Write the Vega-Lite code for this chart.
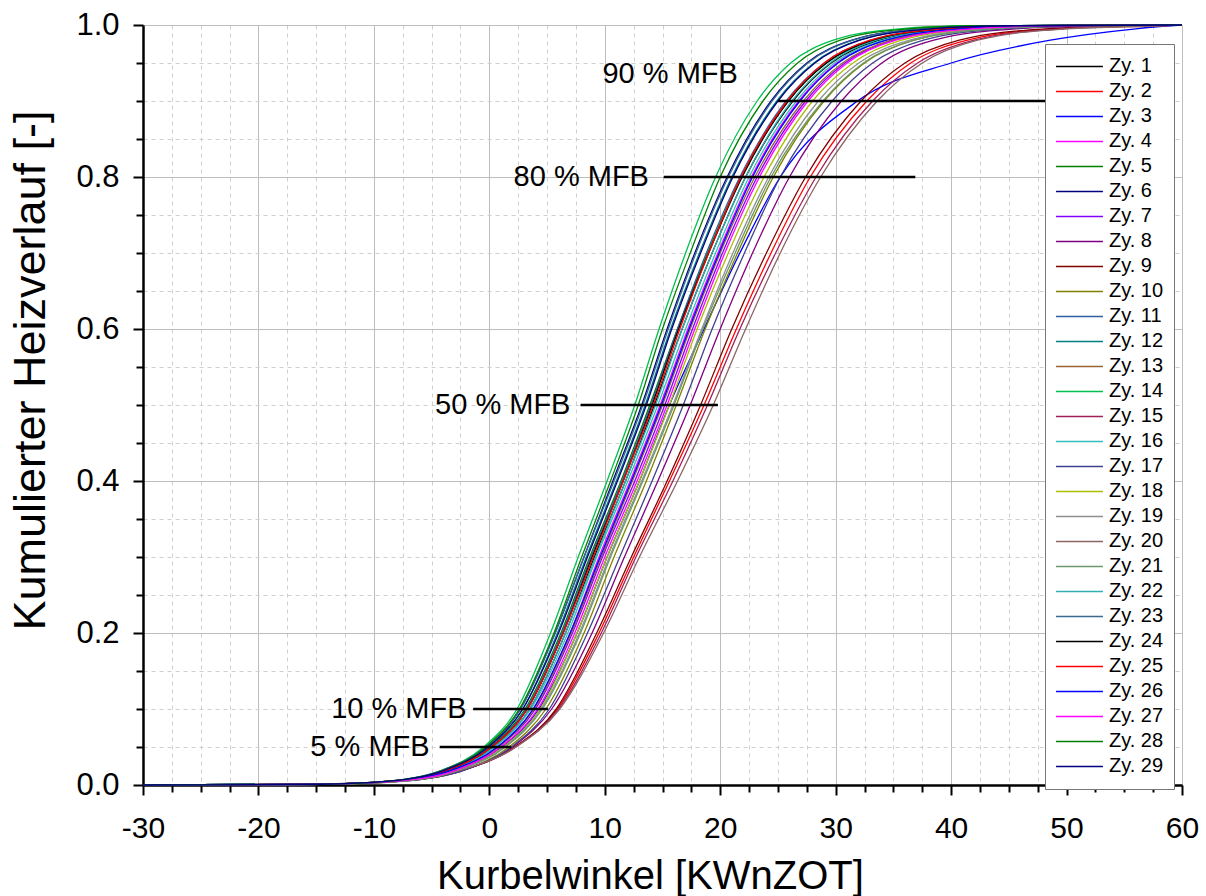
{
"$schema":"https://vega.github.io/schema/vega-lite/v6.json",
"width":1039,"height":760,
"autosize":"none",
"padding":{"left":143,"top":25,"right":24,"bottom":111},
"background":"white",
"config":{"font":"Liberation Sans","view":{"stroke":null}},
"datasets":{
"curves":[
{"c":"Zy. 1","x":-30,"y":0},{"c":"Zy. 1","x":-14.3,"y":0.001},{"c":"Zy. 1","x":-8.3,"y":0.005},{"c":"Zy. 1","x":-3.3,"y":0.02},{"c":"Zy. 1","x":0.4,"y":0.05},{"c":"Zy. 1","x":3.5,"y":0.1},{"c":"Zy. 1","x":6.6,"y":0.2},{"c":"Zy. 1","x":9.1,"y":0.3},{"c":"Zy. 1","x":11.8,"y":0.4},{"c":"Zy. 1","x":14.3,"y":0.5},{"c":"Zy. 1","x":16.7,"y":0.6},{"c":"Zy. 1","x":19.3,"y":0.7},{"c":"Zy. 1","x":22.2,"y":0.8},{"c":"Zy. 1","x":26.3,"y":0.9},{"c":"Zy. 1","x":29.6,"y":0.95},{"c":"Zy. 1","x":33.8,"y":0.98},{"c":"Zy. 1","x":40.3,"y":0.995},{"c":"Zy. 1","x":47.3,"y":0.999},{"c":"Zy. 1","x":60,"y":1},
{"c":"Zy. 2","x":-30,"y":0},{"c":"Zy. 2","x":-15.2,"y":0.001},{"c":"Zy. 2","x":-8.1,"y":0.005},{"c":"Zy. 2","x":-2.2,"y":0.02},{"c":"Zy. 2","x":2.2,"y":0.05},{"c":"Zy. 2","x":5.9,"y":0.1},{"c":"Zy. 2","x":9.5,"y":0.2},{"c":"Zy. 2","x":12.5,"y":0.3},{"c":"Zy. 2","x":15.6,"y":0.4},{"c":"Zy. 2","x":18.6,"y":0.5},{"c":"Zy. 2","x":21.4,"y":0.6},{"c":"Zy. 2","x":24.4,"y":0.7},{"c":"Zy. 2","x":27.8,"y":0.8},{"c":"Zy. 2","x":32.7,"y":0.9},{"c":"Zy. 2","x":36.5,"y":0.95},{"c":"Zy. 2","x":41.4,"y":0.98},{"c":"Zy. 2","x":49.0,"y":0.995},{"c":"Zy. 2","x":57.2,"y":0.999},{"c":"Zy. 2","x":60,"y":1},
{"c":"Zy. 3","x":-30,"y":0},{"c":"Zy. 3","x":-14.3,"y":0.001},{"c":"Zy. 3","x":-8.0,"y":0.005},{"c":"Zy. 3","x":-2.8,"y":0.02},{"c":"Zy. 3","x":1.1,"y":0.05},{"c":"Zy. 3","x":4.3,"y":0.1},{"c":"Zy. 3","x":7.6,"y":0.2},{"c":"Zy. 3","x":10.2,"y":0.3},{"c":"Zy. 3","x":13.0,"y":0.4},{"c":"Zy. 3","x":15.6,"y":0.5},{"c":"Zy. 3","x":18.6,"y":0.6},{"c":"Zy. 3","x":21.7,"y":0.7},{"c":"Zy. 3","x":25.2,"y":0.8},{"c":"Zy. 3","x":31.9,"y":0.9},{"c":"Zy. 3","x":40.0,"y":0.95},{"c":"Zy. 3","x":48.6,"y":0.98},{"c":"Zy. 3","x":56.0,"y":0.995},{"c":"Zy. 3","x":59.0,"y":0.999},{"c":"Zy. 3","x":60,"y":1},
{"c":"Zy. 4","x":-30,"y":0},{"c":"Zy. 4","x":-14.3,"y":0.001},{"c":"Zy. 4","x":-8.2,"y":0.005},{"c":"Zy. 4","x":-3.1,"y":0.02},{"c":"Zy. 4","x":0.7,"y":0.05},{"c":"Zy. 4","x":3.8,"y":0.1},{"c":"Zy. 4","x":7.0,"y":0.2},{"c":"Zy. 4","x":9.5,"y":0.3},{"c":"Zy. 4","x":12.2,"y":0.4},{"c":"Zy. 4","x":14.8,"y":0.5},{"c":"Zy. 4","x":17.2,"y":0.6},{"c":"Zy. 4","x":19.8,"y":0.7},{"c":"Zy. 4","x":22.7,"y":0.8},{"c":"Zy. 4","x":26.8,"y":0.9},{"c":"Zy. 4","x":30.1,"y":0.95},{"c":"Zy. 4","x":34.3,"y":0.98},{"c":"Zy. 4","x":40.8,"y":0.995},{"c":"Zy. 4","x":47.8,"y":0.999},{"c":"Zy. 4","x":60,"y":1},
{"c":"Zy. 5","x":-30,"y":0},{"c":"Zy. 5","x":-14.7,"y":0.001},{"c":"Zy. 5","x":-8.7,"y":0.005},{"c":"Zy. 5","x":-3.7,"y":0.02},{"c":"Zy. 5","x":0.0,"y":0.05},{"c":"Zy. 5","x":3.1,"y":0.1},{"c":"Zy. 5","x":6.2,"y":0.2},{"c":"Zy. 5","x":8.7,"y":0.3},{"c":"Zy. 5","x":11.4,"y":0.4},{"c":"Zy. 5","x":13.9,"y":0.5},{"c":"Zy. 5","x":16.3,"y":0.6},{"c":"Zy. 5","x":18.9,"y":0.7},{"c":"Zy. 5","x":21.8,"y":0.8},{"c":"Zy. 5","x":25.9,"y":0.9},{"c":"Zy. 5","x":29.2,"y":0.95},{"c":"Zy. 5","x":33.4,"y":0.98},{"c":"Zy. 5","x":39.9,"y":0.995},{"c":"Zy. 5","x":46.9,"y":0.999},{"c":"Zy. 5","x":60,"y":1},
{"c":"Zy. 6","x":-30,"y":0},{"c":"Zy. 6","x":-14.6,"y":0.001},{"c":"Zy. 6","x":-8.7,"y":0.005},{"c":"Zy. 6","x":-3.9,"y":0.02},{"c":"Zy. 6","x":-0.3,"y":0.05},{"c":"Zy. 6","x":2.7,"y":0.1},{"c":"Zy. 6","x":5.7,"y":0.2},{"c":"Zy. 6","x":8.2,"y":0.3},{"c":"Zy. 6","x":10.7,"y":0.4},{"c":"Zy. 6","x":13.2,"y":0.5},{"c":"Zy. 6","x":15.4,"y":0.6},{"c":"Zy. 6","x":17.8,"y":0.7},{"c":"Zy. 6","x":20.6,"y":0.8},{"c":"Zy. 6","x":24.4,"y":0.9},{"c":"Zy. 6","x":27.5,"y":0.95},{"c":"Zy. 6","x":31.4,"y":0.98},{"c":"Zy. 6","x":37.4,"y":0.995},{"c":"Zy. 6","x":44.0,"y":0.999},{"c":"Zy. 6","x":60,"y":1},
{"c":"Zy. 7","x":-30,"y":0},{"c":"Zy. 7","x":-14.4,"y":0.001},{"c":"Zy. 7","x":-8.2,"y":0.005},{"c":"Zy. 7","x":-3.0,"y":0.02},{"c":"Zy. 7","x":0.8,"y":0.05},{"c":"Zy. 7","x":4.0,"y":0.1},{"c":"Zy. 7","x":7.2,"y":0.2},{"c":"Zy. 7","x":9.8,"y":0.3},{"c":"Zy. 7","x":12.6,"y":0.4},{"c":"Zy. 7","x":15.2,"y":0.5},{"c":"Zy. 7","x":17.6,"y":0.6},{"c":"Zy. 7","x":20.2,"y":0.7},{"c":"Zy. 7","x":23.2,"y":0.8},{"c":"Zy. 7","x":27.4,"y":0.9},{"c":"Zy. 7","x":30.8,"y":0.95},{"c":"Zy. 7","x":35.0,"y":0.98},{"c":"Zy. 7","x":41.6,"y":0.995},{"c":"Zy. 7","x":48.8,"y":0.999},{"c":"Zy. 7","x":60,"y":1},
{"c":"Zy. 8","x":-30,"y":0},{"c":"Zy. 8","x":-14.3,"y":0.001},{"c":"Zy. 8","x":-7.6,"y":0.005},{"c":"Zy. 8","x":-2.1,"y":0.02},{"c":"Zy. 8","x":2.0,"y":0.05},{"c":"Zy. 8","x":5.4,"y":0.1},{"c":"Zy. 8","x":8.9,"y":0.2},{"c":"Zy. 8","x":11.7,"y":0.3},{"c":"Zy. 8","x":14.6,"y":0.4},{"c":"Zy. 8","x":17.4,"y":0.5},{"c":"Zy. 8","x":20.0,"y":0.6},{"c":"Zy. 8","x":22.8,"y":0.7},{"c":"Zy. 8","x":26.0,"y":0.8},{"c":"Zy. 8","x":30.5,"y":0.9},{"c":"Zy. 8","x":34.0,"y":0.95},{"c":"Zy. 8","x":38.5,"y":0.98},{"c":"Zy. 8","x":45.6,"y":0.995},{"c":"Zy. 8","x":53.2,"y":0.999},{"c":"Zy. 8","x":60,"y":1},
{"c":"Zy. 9","x":-30,"y":0},{"c":"Zy. 9","x":-15.0,"y":0.001},{"c":"Zy. 9","x":-7.9,"y":0.005},{"c":"Zy. 9","x":-2.2,"y":0.02},{"c":"Zy. 9","x":2.2,"y":0.05},{"c":"Zy. 9","x":5.8,"y":0.1},{"c":"Zy. 9","x":9.3,"y":0.2},{"c":"Zy. 9","x":12.3,"y":0.3},{"c":"Zy. 9","x":15.4,"y":0.4},{"c":"Zy. 9","x":18.3,"y":0.5},{"c":"Zy. 9","x":21.0,"y":0.6},{"c":"Zy. 9","x":24.0,"y":0.7},{"c":"Zy. 9","x":27.4,"y":0.8},{"c":"Zy. 9","x":32.2,"y":0.9},{"c":"Zy. 9","x":36.0,"y":0.95},{"c":"Zy. 9","x":40.7,"y":0.98},{"c":"Zy. 9","x":48.2,"y":0.995},{"c":"Zy. 9","x":56.4,"y":0.999},{"c":"Zy. 9","x":60,"y":1},
{"c":"Zy. 10","x":-30,"y":0},{"c":"Zy. 10","x":-13.7,"y":0.001},{"c":"Zy. 10","x":-7.4,"y":0.005},{"c":"Zy. 10","x":-2.2,"y":0.02},{"c":"Zy. 10","x":1.7,"y":0.05},{"c":"Zy. 10","x":4.9,"y":0.1},{"c":"Zy. 10","x":8.2,"y":0.2},{"c":"Zy. 10","x":10.8,"y":0.3},{"c":"Zy. 10","x":13.6,"y":0.4},{"c":"Zy. 10","x":16.2,"y":0.5},{"c":"Zy. 10","x":18.7,"y":0.6},{"c":"Zy. 10","x":21.5,"y":0.7},{"c":"Zy. 10","x":24.6,"y":0.8},{"c":"Zy. 10","x":29.0,"y":0.9},{"c":"Zy. 10","x":32.5,"y":0.95},{"c":"Zy. 10","x":36.8,"y":0.98},{"c":"Zy. 10","x":43.7,"y":0.995},{"c":"Zy. 10","x":51.2,"y":0.999},{"c":"Zy. 10","x":60,"y":1},
{"c":"Zy. 11","x":-30,"y":0},{"c":"Zy. 11","x":-14.6,"y":0.001},{"c":"Zy. 11","x":-8.6,"y":0.005},{"c":"Zy. 11","x":-3.6,"y":0.02},{"c":"Zy. 11","x":0.1,"y":0.05},{"c":"Zy. 11","x":3.2,"y":0.1},{"c":"Zy. 11","x":6.3,"y":0.2},{"c":"Zy. 11","x":8.8,"y":0.3},{"c":"Zy. 11","x":11.5,"y":0.4},{"c":"Zy. 11","x":14.0,"y":0.5},{"c":"Zy. 11","x":16.3,"y":0.6},{"c":"Zy. 11","x":18.8,"y":0.7},{"c":"Zy. 11","x":21.7,"y":0.8},{"c":"Zy. 11","x":25.7,"y":0.9},{"c":"Zy. 11","x":29.0,"y":0.95},{"c":"Zy. 11","x":33.0,"y":0.98},{"c":"Zy. 11","x":39.3,"y":0.995},{"c":"Zy. 11","x":46.2,"y":0.999},{"c":"Zy. 11","x":60,"y":1},
{"c":"Zy. 12","x":-30,"y":0},{"c":"Zy. 12","x":-14.6,"y":0.001},{"c":"Zy. 12","x":-8.6,"y":0.005},{"c":"Zy. 12","x":-3.8,"y":0.02},{"c":"Zy. 12","x":-0.1,"y":0.05},{"c":"Zy. 12","x":2.9,"y":0.1},{"c":"Zy. 12","x":5.9,"y":0.2},{"c":"Zy. 12","x":8.4,"y":0.3},{"c":"Zy. 12","x":11.0,"y":0.4},{"c":"Zy. 12","x":13.5,"y":0.5},{"c":"Zy. 12","x":15.7,"y":0.6},{"c":"Zy. 12","x":18.2,"y":0.7},{"c":"Zy. 12","x":21.0,"y":0.8},{"c":"Zy. 12","x":24.9,"y":0.9},{"c":"Zy. 12","x":28.1,"y":0.95},{"c":"Zy. 12","x":32.0,"y":0.98},{"c":"Zy. 12","x":38.1,"y":0.995},{"c":"Zy. 12","x":44.9,"y":0.999},{"c":"Zy. 12","x":60,"y":1},
{"c":"Zy. 13","x":-30,"y":0},{"c":"Zy. 13","x":-14.4,"y":0.001},{"c":"Zy. 13","x":-8.2,"y":0.005},{"c":"Zy. 13","x":-3.1,"y":0.02},{"c":"Zy. 13","x":0.8,"y":0.05},{"c":"Zy. 13","x":3.9,"y":0.1},{"c":"Zy. 13","x":7.1,"y":0.2},{"c":"Zy. 13","x":9.7,"y":0.3},{"c":"Zy. 13","x":12.4,"y":0.4},{"c":"Zy. 13","x":15.0,"y":0.5},{"c":"Zy. 13","x":17.4,"y":0.6},{"c":"Zy. 13","x":20.0,"y":0.7},{"c":"Zy. 13","x":23.0,"y":0.8},{"c":"Zy. 13","x":27.2,"y":0.9},{"c":"Zy. 13","x":30.6,"y":0.95},{"c":"Zy. 13","x":34.8,"y":0.98},{"c":"Zy. 13","x":41.4,"y":0.995},{"c":"Zy. 13","x":48.6,"y":0.999},{"c":"Zy. 13","x":60,"y":1},
{"c":"Zy. 14","x":-30,"y":0},{"c":"Zy. 14","x":-14.4,"y":0.001},{"c":"Zy. 14","x":-8.7,"y":0.005},{"c":"Zy. 14","x":-4.0,"y":0.02},{"c":"Zy. 14","x":-0.5,"y":0.05},{"c":"Zy. 14","x":2.4,"y":0.1},{"c":"Zy. 14","x":5.3,"y":0.2},{"c":"Zy. 14","x":7.7,"y":0.3},{"c":"Zy. 14","x":10.2,"y":0.4},{"c":"Zy. 14","x":12.6,"y":0.5},{"c":"Zy. 14","x":14.7,"y":0.6},{"c":"Zy. 14","x":17.0,"y":0.7},{"c":"Zy. 14","x":19.6,"y":0.8},{"c":"Zy. 14","x":23.2,"y":0.9},{"c":"Zy. 14","x":26.1,"y":0.95},{"c":"Zy. 14","x":29.8,"y":0.98},{"c":"Zy. 14","x":35.5,"y":0.995},{"c":"Zy. 14","x":41.7,"y":0.999},{"c":"Zy. 14","x":60,"y":1},
{"c":"Zy. 15","x":-30,"y":0},{"c":"Zy. 15","x":-15.4,"y":0.001},{"c":"Zy. 15","x":-8.2,"y":0.005},{"c":"Zy. 15","x":-2.2,"y":0.02},{"c":"Zy. 15","x":2.3,"y":0.05},{"c":"Zy. 15","x":6.0,"y":0.1},{"c":"Zy. 15","x":9.7,"y":0.2},{"c":"Zy. 15","x":12.7,"y":0.3},{"c":"Zy. 15","x":15.9,"y":0.4},{"c":"Zy. 15","x":18.9,"y":0.5},{"c":"Zy. 15","x":21.7,"y":0.6},{"c":"Zy. 15","x":24.8,"y":0.7},{"c":"Zy. 15","x":28.3,"y":0.8},{"c":"Zy. 15","x":33.2,"y":0.9},{"c":"Zy. 15","x":37.1,"y":0.95},{"c":"Zy. 15","x":42.0,"y":0.98},{"c":"Zy. 15","x":49.7,"y":0.995},{"c":"Zy. 15","x":58.1,"y":0.999},{"c":"Zy. 15","x":60,"y":1},
{"c":"Zy. 16","x":-30,"y":0},{"c":"Zy. 16","x":-14.5,"y":0.001},{"c":"Zy. 16","x":-8.4,"y":0.005},{"c":"Zy. 16","x":-3.3,"y":0.02},{"c":"Zy. 16","x":0.5,"y":0.05},{"c":"Zy. 16","x":3.6,"y":0.1},{"c":"Zy. 16","x":6.8,"y":0.2},{"c":"Zy. 16","x":9.3,"y":0.3},{"c":"Zy. 16","x":12.0,"y":0.4},{"c":"Zy. 16","x":14.6,"y":0.5},{"c":"Zy. 16","x":17.0,"y":0.6},{"c":"Zy. 16","x":19.6,"y":0.7},{"c":"Zy. 16","x":22.5,"y":0.8},{"c":"Zy. 16","x":26.6,"y":0.9},{"c":"Zy. 16","x":29.9,"y":0.95},{"c":"Zy. 16","x":34.1,"y":0.98},{"c":"Zy. 16","x":40.6,"y":0.995},{"c":"Zy. 16","x":47.6,"y":0.999},{"c":"Zy. 16","x":60,"y":1},
{"c":"Zy. 17","x":-30,"y":0},{"c":"Zy. 17","x":-13.9,"y":0.001},{"c":"Zy. 17","x":-7.4,"y":0.005},{"c":"Zy. 17","x":-2.1,"y":0.02},{"c":"Zy. 17","x":1.9,"y":0.05},{"c":"Zy. 17","x":5.2,"y":0.1},{"c":"Zy. 17","x":8.5,"y":0.2},{"c":"Zy. 17","x":11.3,"y":0.3},{"c":"Zy. 17","x":14.1,"y":0.4},{"c":"Zy. 17","x":16.8,"y":0.5},{"c":"Zy. 17","x":19.3,"y":0.6},{"c":"Zy. 17","x":22.1,"y":0.7},{"c":"Zy. 17","x":25.2,"y":0.8},{"c":"Zy. 17","x":29.7,"y":0.9},{"c":"Zy. 17","x":33.2,"y":0.95},{"c":"Zy. 17","x":37.6,"y":0.98},{"c":"Zy. 17","x":44.5,"y":0.995},{"c":"Zy. 17","x":52.1,"y":0.999},{"c":"Zy. 17","x":60,"y":1},
{"c":"Zy. 18","x":-30,"y":0},{"c":"Zy. 18","x":-14.0,"y":0.001},{"c":"Zy. 18","x":-7.8,"y":0.005},{"c":"Zy. 18","x":-2.6,"y":0.02},{"c":"Zy. 18","x":1.2,"y":0.05},{"c":"Zy. 18","x":4.4,"y":0.1},{"c":"Zy. 18","x":7.6,"y":0.2},{"c":"Zy. 18","x":10.2,"y":0.3},{"c":"Zy. 18","x":13.0,"y":0.4},{"c":"Zy. 18","x":15.6,"y":0.5},{"c":"Zy. 18","x":18.0,"y":0.6},{"c":"Zy. 18","x":20.7,"y":0.7},{"c":"Zy. 18","x":23.8,"y":0.8},{"c":"Zy. 18","x":28.0,"y":0.9},{"c":"Zy. 18","x":31.5,"y":0.95},{"c":"Zy. 18","x":35.7,"y":0.98},{"c":"Zy. 18","x":42.4,"y":0.995},{"c":"Zy. 18","x":49.8,"y":0.999},{"c":"Zy. 18","x":60,"y":1},
{"c":"Zy. 19","x":-30,"y":0},{"c":"Zy. 19","x":-14.3,"y":0.001},{"c":"Zy. 19","x":-7.9,"y":0.005},{"c":"Zy. 19","x":-2.7,"y":0.02},{"c":"Zy. 19","x":1.3,"y":0.05},{"c":"Zy. 19","x":4.5,"y":0.1},{"c":"Zy. 19","x":7.8,"y":0.2},{"c":"Zy. 19","x":10.4,"y":0.3},{"c":"Zy. 19","x":13.2,"y":0.4},{"c":"Zy. 19","x":15.9,"y":0.5},{"c":"Zy. 19","x":18.4,"y":0.6},{"c":"Zy. 19","x":21.1,"y":0.7},{"c":"Zy. 19","x":24.2,"y":0.8},{"c":"Zy. 19","x":28.5,"y":0.9},{"c":"Zy. 19","x":32.0,"y":0.95},{"c":"Zy. 19","x":36.4,"y":0.98},{"c":"Zy. 19","x":43.2,"y":0.995},{"c":"Zy. 19","x":50.6,"y":0.999},{"c":"Zy. 19","x":60,"y":1},
{"c":"Zy. 20","x":-30,"y":0},{"c":"Zy. 20","x":-16.0,"y":0.001},{"c":"Zy. 20","x":-8.5,"y":0.005},{"c":"Zy. 20","x":-2.4,"y":0.02},{"c":"Zy. 20","x":2.3,"y":0.05},{"c":"Zy. 20","x":6.1,"y":0.1},{"c":"Zy. 20","x":9.9,"y":0.2},{"c":"Zy. 20","x":13.0,"y":0.3},{"c":"Zy. 20","x":16.3,"y":0.4},{"c":"Zy. 20","x":19.4,"y":0.5},{"c":"Zy. 20","x":22.2,"y":0.6},{"c":"Zy. 20","x":25.2,"y":0.7},{"c":"Zy. 20","x":28.7,"y":0.8},{"c":"Zy. 20","x":33.6,"y":0.9},{"c":"Zy. 20","x":37.5,"y":0.95},{"c":"Zy. 20","x":42.3,"y":0.98},{"c":"Zy. 20","x":50.0,"y":0.995},{"c":"Zy. 20","x":58.3,"y":0.999},{"c":"Zy. 20","x":60,"y":1},
{"c":"Zy. 21","x":-30,"y":0},{"c":"Zy. 21","x":-14.2,"y":0.001},{"c":"Zy. 21","x":-7.8,"y":0.005},{"c":"Zy. 21","x":-2.6,"y":0.02},{"c":"Zy. 21","x":1.4,"y":0.05},{"c":"Zy. 21","x":4.6,"y":0.1},{"c":"Zy. 21","x":7.9,"y":0.2},{"c":"Zy. 21","x":10.5,"y":0.3},{"c":"Zy. 21","x":13.3,"y":0.4},{"c":"Zy. 21","x":16.0,"y":0.5},{"c":"Zy. 21","x":18.5,"y":0.6},{"c":"Zy. 21","x":21.3,"y":0.7},{"c":"Zy. 21","x":24.4,"y":0.8},{"c":"Zy. 21","x":28.9,"y":0.9},{"c":"Zy. 21","x":32.4,"y":0.95},{"c":"Zy. 21","x":36.8,"y":0.98},{"c":"Zy. 21","x":43.7,"y":0.995},{"c":"Zy. 21","x":51.3,"y":0.999},{"c":"Zy. 21","x":60,"y":1},
{"c":"Zy. 22","x":-30,"y":0},{"c":"Zy. 22","x":-14.5,"y":0.001},{"c":"Zy. 22","x":-8.4,"y":0.005},{"c":"Zy. 22","x":-3.4,"y":0.02},{"c":"Zy. 22","x":0.4,"y":0.05},{"c":"Zy. 22","x":3.5,"y":0.1},{"c":"Zy. 22","x":6.6,"y":0.2},{"c":"Zy. 22","x":9.2,"y":0.3},{"c":"Zy. 22","x":11.8,"y":0.4},{"c":"Zy. 22","x":14.4,"y":0.5},{"c":"Zy. 22","x":16.7,"y":0.6},{"c":"Zy. 22","x":19.3,"y":0.7},{"c":"Zy. 22","x":22.2,"y":0.8},{"c":"Zy. 22","x":26.2,"y":0.9},{"c":"Zy. 22","x":29.5,"y":0.95},{"c":"Zy. 22","x":33.5,"y":0.98},{"c":"Zy. 22","x":39.9,"y":0.995},{"c":"Zy. 22","x":46.9,"y":0.999},{"c":"Zy. 22","x":60,"y":1},
{"c":"Zy. 23","x":-30,"y":0},{"c":"Zy. 23","x":-14.8,"y":0.001},{"c":"Zy. 23","x":-8.8,"y":0.005},{"c":"Zy. 23","x":-4.0,"y":0.02},{"c":"Zy. 23","x":-0.3,"y":0.05},{"c":"Zy. 23","x":2.7,"y":0.1},{"c":"Zy. 23","x":5.7,"y":0.2},{"c":"Zy. 23","x":8.2,"y":0.3},{"c":"Zy. 23","x":10.8,"y":0.4},{"c":"Zy. 23","x":13.3,"y":0.5},{"c":"Zy. 23","x":15.5,"y":0.6},{"c":"Zy. 23","x":17.9,"y":0.7},{"c":"Zy. 23","x":20.7,"y":0.8},{"c":"Zy. 23","x":24.5,"y":0.9},{"c":"Zy. 23","x":27.6,"y":0.95},{"c":"Zy. 23","x":31.5,"y":0.98},{"c":"Zy. 23","x":37.5,"y":0.995},{"c":"Zy. 23","x":44.1,"y":0.999},{"c":"Zy. 23","x":60,"y":1},
{"c":"Zy. 24","x":-30,"y":0},{"c":"Zy. 24","x":-14.5,"y":0.001},{"c":"Zy. 24","x":-8.5,"y":0.005},{"c":"Zy. 24","x":-3.5,"y":0.02},{"c":"Zy. 24","x":0.2,"y":0.05},{"c":"Zy. 24","x":3.3,"y":0.1},{"c":"Zy. 24","x":6.4,"y":0.2},{"c":"Zy. 24","x":8.9,"y":0.3},{"c":"Zy. 24","x":11.6,"y":0.4},{"c":"Zy. 24","x":14.1,"y":0.5},{"c":"Zy. 24","x":16.4,"y":0.6},{"c":"Zy. 24","x":19.0,"y":0.7},{"c":"Zy. 24","x":21.9,"y":0.8},{"c":"Zy. 24","x":25.9,"y":0.9},{"c":"Zy. 24","x":29.2,"y":0.95},{"c":"Zy. 24","x":33.2,"y":0.98},{"c":"Zy. 24","x":39.6,"y":0.995},{"c":"Zy. 24","x":46.6,"y":0.999},{"c":"Zy. 24","x":60,"y":1},
{"c":"Zy. 25","x":-30,"y":0},{"c":"Zy. 25","x":-14.7,"y":0.001},{"c":"Zy. 25","x":-8.6,"y":0.005},{"c":"Zy. 25","x":-3.6,"y":0.02},{"c":"Zy. 25","x":0.2,"y":0.05},{"c":"Zy. 25","x":3.3,"y":0.1},{"c":"Zy. 25","x":6.4,"y":0.2},{"c":"Zy. 25","x":9.0,"y":0.3},{"c":"Zy. 25","x":11.6,"y":0.4},{"c":"Zy. 25","x":14.2,"y":0.5},{"c":"Zy. 25","x":16.5,"y":0.6},{"c":"Zy. 25","x":19.0,"y":0.7},{"c":"Zy. 25","x":21.8,"y":0.8},{"c":"Zy. 25","x":25.8,"y":0.9},{"c":"Zy. 25","x":29.0,"y":0.95},{"c":"Zy. 25","x":33.0,"y":0.98},{"c":"Zy. 25","x":39.3,"y":0.995},{"c":"Zy. 25","x":46.1,"y":0.999},{"c":"Zy. 25","x":60,"y":1},
{"c":"Zy. 26","x":-30,"y":0},{"c":"Zy. 26","x":-14.5,"y":0.001},{"c":"Zy. 26","x":-8.3,"y":0.005},{"c":"Zy. 26","x":-3.2,"y":0.02},{"c":"Zy. 26","x":0.7,"y":0.05},{"c":"Zy. 26","x":3.8,"y":0.1},{"c":"Zy. 26","x":7.0,"y":0.2},{"c":"Zy. 26","x":9.6,"y":0.3},{"c":"Zy. 26","x":12.3,"y":0.4},{"c":"Zy. 26","x":14.9,"y":0.5},{"c":"Zy. 26","x":17.3,"y":0.6},{"c":"Zy. 26","x":19.9,"y":0.7},{"c":"Zy. 26","x":22.8,"y":0.8},{"c":"Zy. 26","x":26.9,"y":0.9},{"c":"Zy. 26","x":30.2,"y":0.95},{"c":"Zy. 26","x":34.4,"y":0.98},{"c":"Zy. 26","x":40.9,"y":0.995},{"c":"Zy. 26","x":47.9,"y":0.999},{"c":"Zy. 26","x":60,"y":1},
{"c":"Zy. 27","x":-30,"y":0},{"c":"Zy. 27","x":-14.2,"y":0.001},{"c":"Zy. 27","x":-8.0,"y":0.005},{"c":"Zy. 27","x":-2.8,"y":0.02},{"c":"Zy. 27","x":1.0,"y":0.05},{"c":"Zy. 27","x":4.2,"y":0.1},{"c":"Zy. 27","x":7.4,"y":0.2},{"c":"Zy. 27","x":10.0,"y":0.3},{"c":"Zy. 27","x":12.8,"y":0.4},{"c":"Zy. 27","x":15.4,"y":0.5},{"c":"Zy. 27","x":17.8,"y":0.6},{"c":"Zy. 27","x":20.4,"y":0.7},{"c":"Zy. 27","x":23.4,"y":0.8},{"c":"Zy. 27","x":27.6,"y":0.9},{"c":"Zy. 27","x":31.0,"y":0.95},{"c":"Zy. 27","x":35.2,"y":0.98},{"c":"Zy. 27","x":41.8,"y":0.995},{"c":"Zy. 27","x":49.0,"y":0.999},{"c":"Zy. 27","x":60,"y":1},
{"c":"Zy. 28","x":-30,"y":0},{"c":"Zy. 28","x":-14.4,"y":0.001},{"c":"Zy. 28","x":-8.6,"y":0.005},{"c":"Zy. 28","x":-3.9,"y":0.02},{"c":"Zy. 28","x":-0.3,"y":0.05},{"c":"Zy. 28","x":2.6,"y":0.1},{"c":"Zy. 28","x":5.6,"y":0.2},{"c":"Zy. 28","x":8.0,"y":0.3},{"c":"Zy. 28","x":10.5,"y":0.4},{"c":"Zy. 28","x":12.9,"y":0.5},{"c":"Zy. 28","x":15.0,"y":0.6},{"c":"Zy. 28","x":17.4,"y":0.7},{"c":"Zy. 28","x":20.0,"y":0.8},{"c":"Zy. 28","x":23.7,"y":0.9},{"c":"Zy. 28","x":26.7,"y":0.95},{"c":"Zy. 28","x":30.4,"y":0.98},{"c":"Zy. 28","x":36.2,"y":0.995},{"c":"Zy. 28","x":42.6,"y":0.999},{"c":"Zy. 28","x":60,"y":1},
{"c":"Zy. 29","x":-30,"y":0},{"c":"Zy. 29","x":-14.7,"y":0.001},{"c":"Zy. 29","x":-8.7,"y":0.005},{"c":"Zy. 29","x":-3.8,"y":0.02},{"c":"Zy. 29","x":-0.1,"y":0.05},{"c":"Zy. 29","x":2.9,"y":0.1},{"c":"Zy. 29","x":6.0,"y":0.2},{"c":"Zy. 29","x":8.5,"y":0.3},{"c":"Zy. 29","x":11.1,"y":0.4},{"c":"Zy. 29","x":13.6,"y":0.5},{"c":"Zy. 29","x":15.8,"y":0.6},{"c":"Zy. 29","x":18.3,"y":0.7},{"c":"Zy. 29","x":21.1,"y":0.8},{"c":"Zy. 29","x":25.0,"y":0.9},{"c":"Zy. 29","x":28.2,"y":0.95},{"c":"Zy. 29","x":32.1,"y":0.98},{"c":"Zy. 29","x":38.2,"y":0.995},{"c":"Zy. 29","x":45.0,"y":0.999},{"c":"Zy. 29","x":60,"y":1}
],
"marks":[
{"lab":"5 % MFB","x1":-4.3,"x2":1.9,"y":0.05,"tx":-5.0,"ty":0.05},
{"lab":"10 % MFB","x1":-1.4,"x2":5.1,"y":0.1,"tx":-1.8,"ty":0.1},
{"lab":"50 % MFB","x1":7.9,"x2":19.8,"y":0.5,"tx":7.2,"ty":0.5},
{"lab":"80 % MFB","x1":15.1,"x2":36.9,"y":0.8,"tx":14.0,"ty":0.8},
{"lab":"90 % MFB","x1":25.0,"x2":48.5,"y":0.9,"tx":21.7,"ty":0.935}
]},
"resolve":{"axis":{"x":"independent","y":"independent"}},
"layer":[
{"data":{"name":"curves"},
 "mark":{"type":"line","strokeWidth":1.3,"interpolate":"monotone"},
 "encoding":{
  "x":{"field":"x","type":"quantitative","scale":{"domain":[-30,60],"nice":false,"zero":false},
   "axis":{"orient":"bottom","values":[-30,-20,-10,0,10,20,30,40,50,60],"labelExpr":"toString(datum.value)","title":"Kurbelwinkel [KWnZOT]","titleFontSize":40,"titleFontWeight":"normal","titleColor":"black","titleX":507,"titleY":103,"titleBaseline":"alphabetic","titleAlign":"center","labelFontSize":30,"labelColor":"black","labelBaseline":"alphabetic","labelPadding":42,"labelFlush":false,"tickSize":10,"tickWidth":2,"tickColor":"black","domainColor":"black","domainWidth":2.5,"grid":true,"gridColor":"#bdbdbd","gridWidth":1,"zindex":0}},
  "y":{"field":"y","type":"quantitative","scale":{"domain":[0,1],"nice":false,"zero":false},
   "axis":{"orient":"left","values":[0,0.2,0.4,0.6,0.8,1.0],"format":".1f","title":"Kumulierter Heizverlauf [-]","titleFontSize":45,"titleFontWeight":"normal","titleColor":"black","titleX":-113,"titleY":345,"titleAngle":-90,"titleBaseline":"middle","titleAlign":"center","labelFontSize":31,"labelColor":"black","labelPadding":14,"labelFlush":false,"tickSize":10,"tickWidth":2,"tickColor":"black","domainColor":"black","domainWidth":2.5,"grid":true,"gridColor":"#bdbdbd","gridWidth":1,"zindex":0}},
  "color":{"field":"c","type":"nominal",
   "scale":{"domain":["Zy. 1","Zy. 2","Zy. 3","Zy. 4","Zy. 5","Zy. 6","Zy. 7","Zy. 8","Zy. 9","Zy. 10","Zy. 11","Zy. 12","Zy. 13","Zy. 14","Zy. 15","Zy. 16","Zy. 17","Zy. 18","Zy. 19","Zy. 20","Zy. 21","Zy. 22","Zy. 23","Zy. 24","Zy. 25","Zy. 26","Zy. 27","Zy. 28","Zy. 29"],
    "range":["#000000","#ff0000","#0000ff","#ff00ff","#008000","#000080","#8000ff","#800080","#800000","#808000","#2f5fa0","#008080","#996633","#00c050","#a0205a","#30c0c0","#404090","#a8c000","#909090","#8c6464","#6a9a6a","#30b0b0","#3a6a90","#000000","#ff0000","#0000ff","#ff00ff","#008000","#000080"]},
   "legend":{"title":null,"orient":"none","legendX":902,"legendY":19,"symbolType":"stroke","symbolSize":2200,"symbolStrokeWidth":1.5,"labelFontSize":20,"labelFont":"Liberation Sans","labelColor":"black","fillColor":"white","strokeColor":"#777777","padding":10,"clipHeight":24.8,"rowPadding":0,"labelOffset":5,"labelLimit":200}}
 }},
{"data":{"name":"marks"},
 "mark":{"type":"rule","color":"black","strokeWidth":2.5},
 "encoding":{
  "x":{"field":"x1","type":"quantitative","scale":{"domain":[-30,60],"nice":false,"zero":false},
   "axis":{"orient":"bottom","values":[-27.5,-25,-22.5,-17.5,-15,-12.5,-7.5,-5,-2.5,2.5,5,7.5,12.5,15,17.5,22.5,25,27.5,32.5,35,37.5,42.5,45,47.5,52.5,55,57.5],"title":null,"labels":false,"domain":false,"tickSize":7,"tickWidth":2,"tickColor":"black","grid":true,"gridColor":"#cfcfcf","gridDash":[4,4],"gridWidth":1,"zindex":0}},
  "x2":{"field":"x2"},
  "y":{"field":"y","type":"quantitative","scale":{"domain":[0,1],"nice":false,"zero":false},
   "axis":{"orient":"left","values":[0.05,0.1,0.15,0.25,0.3,0.35,0.45,0.5,0.55,0.65,0.7,0.75,0.85,0.9,0.95],"title":null,"labels":false,"domain":false,"tickSize":7,"tickWidth":2,"tickColor":"black","grid":true,"gridColor":"#cfcfcf","gridDash":[4,4],"gridWidth":1,"zindex":0}}
 }},
{"data":{"name":"marks"},
 "mark":{"type":"text","align":"right","baseline":"middle","fontSize":29,"color":"black","dx":-2},
 "encoding":{
  "x":{"field":"tx","type":"quantitative","axis":null},
  "y":{"field":"ty","type":"quantitative","axis":null},
  "text":{"field":"lab"}
 }}
]
}
